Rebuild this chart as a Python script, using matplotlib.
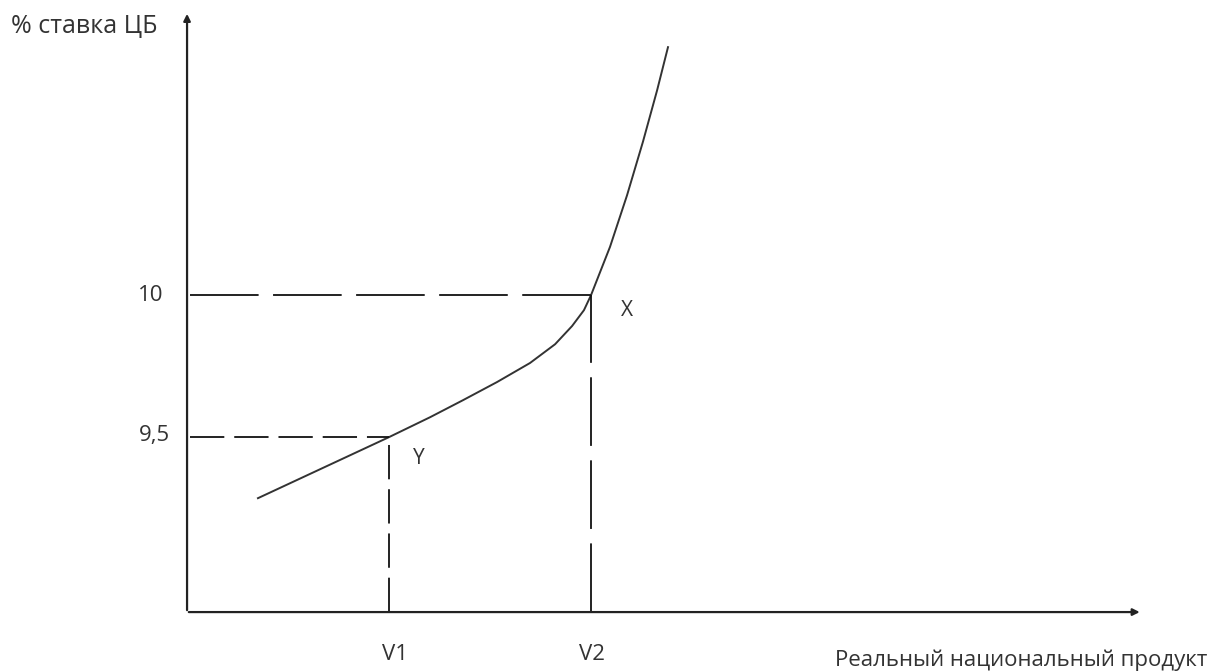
import matplotlib.pyplot as plt

# curve points (x in V units, y = rate %)
curve_x = [0.351, 1.000, 1.203, 1.366, 1.535, 1.698, 1.822, 1.906, 1.965,
           2.000, 2.094, 2.178, 2.257, 2.327, 2.381]
curve_y = [9.285, 9.500, 9.570, 9.630, 9.694, 9.761, 9.827, 9.891, 9.947,
           10.000, 10.170, 10.351, 10.540, 10.721, 10.873]

v_pos = [1.0, 2.0]
v_labels = ['V1', 'V2']
rates = [9.5, 10.0]
rate_labels = ['9,5', '10']
point_labels = ['Y', 'X']

x0, y0 = 0.0, 8.884
x_end, y_end = 4.73, 11.0

plt.rcParams['font.family'] = ['Open Sans', 'DejaVu Sans']
tc = '#333333'

fig = plt.figure(figsize=(12.14, 6.72), dpi=100)
ax = fig.add_axes([0, 0, 1, 1])
ax.set_xlim(-0.926, 5.084)
ax.set_ylim(8.673, 11.039)
ax.axis('off')

# axes with arrows
ax.annotate('', xy=(x0, y_end), xytext=(x0, y0 - 0.003),
            arrowprops=dict(arrowstyle='-|>', lw=1.6, color='#222222', mutation_scale=10))
ax.annotate('', xy=(x_end, y0), xytext=(x0 - 0.005, y0),
            arrowprops=dict(arrowstyle='-|>', lw=1.6, color='#222222', mutation_scale=10))

# curve
ax.plot(curve_x, curve_y, color='#333333', lw=1.4, solid_joinstyle='round')

# dashed guides
dash_styles = [(0, (19, 5.5)), (0, (38, 8))]
for v, r, ds in zip(v_pos, rates, dash_styles):
    ax.plot([x0 + 0.015, v], [r, r], color='#111111', lw=1.3, linestyle=ds)
    ax.plot([v, v], [y0, r], color='#111111', lw=1.3, linestyle=ds)

# labels
ax.text(-0.084, rates[0] + 0.007, rate_labels[0], ha='right', va='center', fontsize=16, color=tc)
ax.text(-0.119, rates[1], rate_labels[1], ha='right', va='center', fontsize=16, color=tc)
ax.text(v_pos[0] + 0.03, 8.736, v_labels[0], ha='center', va='center', fontsize=16, color=tc)
ax.text(v_pos[1] + 0.005, 8.736, v_labels[1], ha='center', va='center', fontsize=16, color=tc)
ax.text(1.149, 9.426, point_labels[0], ha='center', va='center', fontsize=15, color=tc)
ax.text(2.178, 9.947, point_labels[1], ha='center', va='center', fontsize=15, color=tc)

ax.text(-0.87, 10.944, '% ставка ЦБ', ha='left', va='center', fontsize=18, color=tc)
ax.text(5.05, 8.715, 'Реальный национальный продукт', ha='right', va='center', fontsize=16, color=tc)

plt.savefig('out.png', dpi=100)
